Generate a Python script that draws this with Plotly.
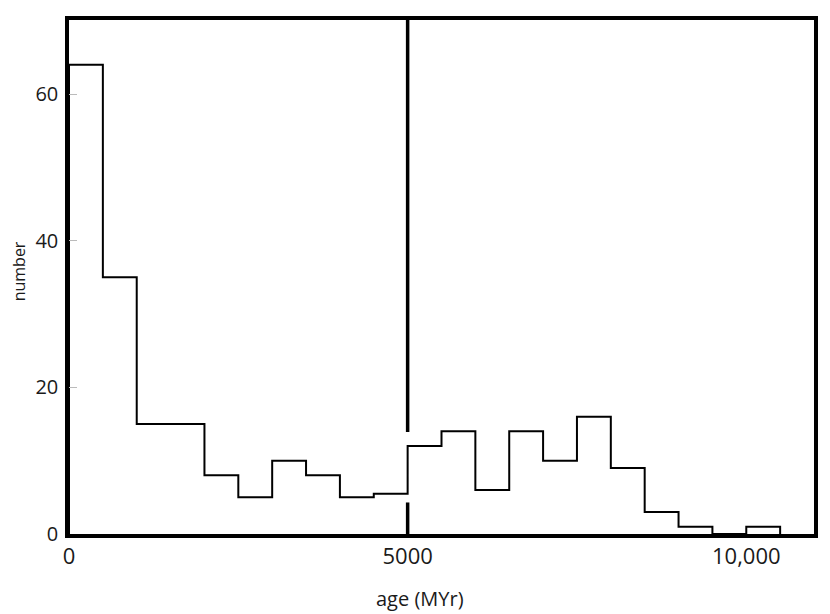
import plotly.graph_objects as go

bin_edges = [0, 500, 1000, 1500, 2000, 2500, 3000, 3500, 4000, 4500, 5000,
             5500, 6000, 6500, 7000, 7500, 8000, 8500, 9000, 9500, 10000, 10500]
counts = [64, 35, 15, 15, 8, 5, 10, 8, 5, 5.5, 12, 14, 6, 14, 10, 16, 9, 3, 1, 0, 1]
marker_x = 5000
marker_gap = [4.3, 13.9]
x_ticks = [0, 5000, 10000]
x_tick_labels = ["0", "5000", "10,000"]
y_ticks = [0, 20, 40, 60]

xs = [bin_edges[0]] + bin_edges
ys = [0] + counts + [0]

fig = go.Figure()
fig.add_trace(go.Scatter(x=xs, y=ys, mode="lines", line=dict(shape="hv", color="black", width=2),
                         hoverinfo="skip", showlegend=False))
fig.add_trace(go.Scatter(x=[marker_x, marker_x, None, marker_x, marker_x],
                         y=[0, marker_gap[0], None, marker_gap[1], 70.1],
                         mode="lines", line=dict(color="black", width=3.5),
                         hoverinfo="skip", showlegend=False))

fam = "Open Sans, Noto Sans, sans-serif"
fig.update_layout(
    width=822, height=606,
    margin=dict(l=61, r=16, t=8, b=80),
    paper_bgcolor="white", plot_bgcolor="white",
    font=dict(family=fam, size=20, color="#1a1a1a"),
    xaxis=dict(range=[0, 11000], tickvals=x_ticks, ticktext=x_tick_labels,
               showline=True, mirror=True, linecolor="black", linewidth=3.5,
               showgrid=False, zeroline=False, ticks="", tickfont=dict(size=22)),
    yaxis=dict(range=[0, 70.1], tickvals=y_ticks,
               showline=True, mirror=True, linecolor="black", linewidth=3.5,
               showgrid=False, zeroline=False, ticks="inside", ticklen=8, tickcolor="#bbbbbb",
               tickfont=dict(size=20), ticklabelstandoff=3),
    annotations=[
        dict(text="age (MYr)", xref="paper", yref="paper", x=0.471, y=0,
             xanchor="center", yanchor="middle", yshift=-64, showarrow=False,
             font=dict(family=fam, size=20, color="#1a1a1a")),
        dict(text="number", xref="paper", yref="paper", x=0, y=0.511,
             xanchor="center", yanchor="middle", xshift=-50, textangle=-90, showarrow=False,
             font=dict(family=fam, size=16, color="#1a1a1a")),
    ],
)
fig.write_html("out.html")
